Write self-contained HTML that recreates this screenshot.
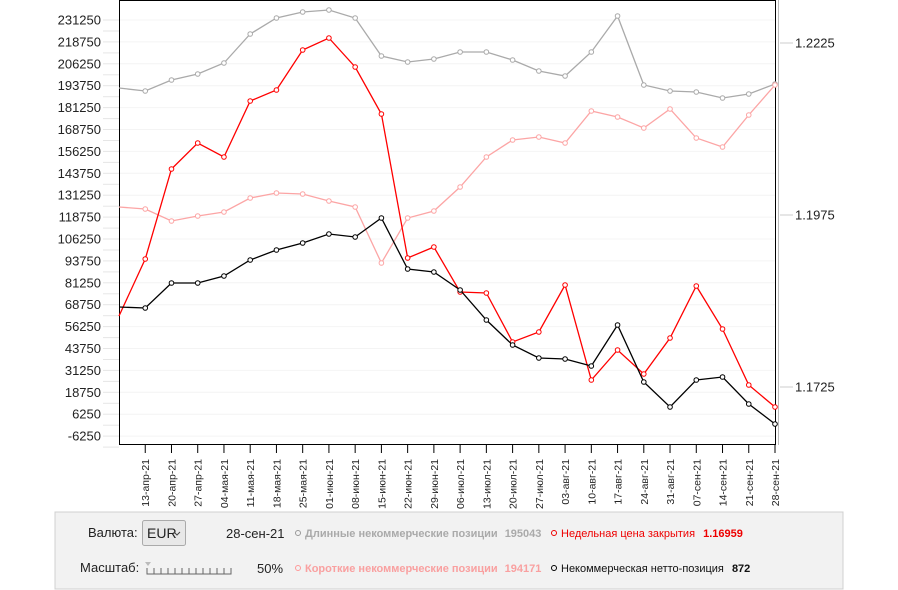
<!DOCTYPE html>
<html><head><meta charset="utf-8"><style>
body{margin:0;width:898px;height:590px;background:#fff;overflow:hidden;font-family:"Liberation Sans",Arial,sans-serif}
svg{position:absolute;left:0;top:0}
</style></head><body>
<svg id="s" width="898" height="590" xmlns="http://www.w3.org/2000/svg" font-family="Liberation Sans, Arial, sans-serif">
<rect x="55" y="512" width="788" height="77" fill="#f2f2f2" stroke="#d0d0d0"/>
<g id="grid"></g>
<line x1="119.5" y1="0" x2="119.5" y2="445" stroke="#000"/>
<line x1="119" y1="0.5" x2="776" y2="0.5" stroke="#000"/>
<line x1="775.5" y1="0" x2="775.5" y2="445" stroke="#000"/>
<line x1="119" y1="444.5" x2="776" y2="444.5" stroke="#000"/>
<line x1="778.5" y1="0" x2="778.5" y2="445" stroke="#bbb"/>
<g id="series"></g>
<text x="88" y="537" font-size="13" fill="#222">Валюта:</text>
<rect x="142.5" y="520.5" width="43" height="25" fill="#e8e8e8" stroke="#aaa" rx="2"/>
<text x="147" y="538" font-size="14" fill="#222">EUR</text>
<path d="M174 532 l3 3 l3 -3" fill="none" stroke="#444"/>
<text x="226" y="538" font-size="13" fill="#222">28-сен-21</text>
<text x="80" y="572" font-size="13" fill="#222">Масштаб:</text>
<path d="M145 562 l6 0 l-3 4z" fill="#bbb"/>
<path d="M147 568 v6 h84 v-6" fill="none" stroke="#666"/>
<g id="sc"></g>
<text x="257" y="573" font-size="13" fill="#222">50%</text>
<circle cx="298" cy="533" r="2.5" fill="none" stroke="#999"/>
<text x="305" y="537" font-size="11" font-weight="bold" fill="#aaa">Длинные некоммерческие позиции <tspan dx="4">195043</tspan></text>
<circle cx="298" cy="568" r="2.5" fill="none" stroke="#f99"/>
<text x="305" y="572" font-size="11" font-weight="bold" fill="#f9a0a0">Короткие некоммерческие позиции <tspan dx="4">194171</tspan></text>
<circle cx="554" cy="533" r="2.5" fill="none" stroke="#e00"/>
<text x="561" y="537" font-size="11" fill="#e00">Недельная цена закрытия <tspan dx="5" font-weight="bold">1.16959</tspan></text>
<circle cx="554" cy="568" r="2.5" fill="none" stroke="#000"/>
<text x="561" y="572" font-size="11" fill="#111">Некоммерческая нетто-позиция <tspan dx="5" font-weight="bold">872</tspan></text>
</svg>
<script>
const NS="http://www.w3.org/2000/svg";
function el(p,t,a,txt){const e=document.createElementNS(NS,t);for(const k in a)e.setAttribute(k,a[k]);if(txt!==undefined)e.textContent=txt;document.getElementById(p).appendChild(e);return e;}
for(let i=0;i<20;i++){const v=231250-i*12500;const y=20+i*21.9;
 el("grid","line",{x1:103,x2:119,y1:y,y2:y,stroke:"#e6e6e6"});
 el("grid","line",{x1:103,x2:119,y1:y+11,y2:y+11,stroke:"#e6e6e6"});
 el("grid","line",{x1:120,x2:775,y1:y,y2:y,stroke:"#f4f4f4"});
 el("grid","text",{x:101,y:y+4.5,"font-size":13,"text-anchor":"end",fill:"#222"},String(v));}
[[43,"1.2225"],[215,"1.1975"],[387,"1.1725"]].forEach(([y,t])=>{
 el("grid","line",{x1:780,x2:793,y1:y,y2:y,stroke:"#ccc"});
 el("grid","text",{x:795,y:y+4.5,"font-size":13,fill:"#222"},t);});
const xs=[];for(let i=0;i<26;i++)xs.push(119+i*26.24);
const labs=["06-апр-21","13-апр-21","20-апр-21","27-апр-21","04-мая-21","11-мая-21","18-мая-21","25-мая-21","01-июн-21","08-июн-21","15-июн-21","22-июн-21","29-июн-21","06-июл-21","13-июл-21","20-июл-21","27-июл-21","03-авг-21","10-авг-21","17-авг-21","24-авг-21","31-авг-21","07-сен-21","14-сен-21","21-сен-21","28-сен-21"];
xs.forEach((x,i)=>{ if(i>0){el("grid","line",{x1:x,x2:x,y1:445,y2:453,stroke:"#000"});
 el("grid","text",{x:0,y:0,"font-size":10.5,fill:"#222","text-anchor":"end",transform:`translate(${x+4},459) rotate(-90)`},labs[i]);}});
for(let i=0;i<=12;i++){el("sc","line",{x1:147+i*7,x2:147+i*7,y1:568,y2:574,stroke:"#666"});}
const D={
g:[88,91,80,74,63,34,18,12,10,18,56,62,59,52,52,60,71,76,52,16,85,91,92,98,94,84],
p:[207,209,221,216,212,198,193,194,201,207,263,218,211,187,157,140,137,143,111,117,128,109,138,147,115,85],
r:[316,259,169,143,157,101,90,50,38,67,114,258,247,292,293,342,332,285,380,350,374,338,286,329,385,407],
b:[307,308,283,283,276,260,250,243,234,237,218,269,272,290,320,345,358,359,366,325,382,407,380,377,404,424]};
const C={g:"#aaa",p:"#fca5a5",r:"#f00",b:"#000"};
["g","p","r","b"].forEach(k=>{
 el("series","polyline",{points:D[k].map((y,i)=>xs[i]+","+y).join(" "),fill:"none",stroke:C[k],"stroke-width":1.3});
 D[k].forEach((y,i)=>{if(i>0)el("series","circle",{cx:xs[i],cy:y,r:2.3,fill:"#fff",stroke:C[k]});});});
</script>
</body></html>
